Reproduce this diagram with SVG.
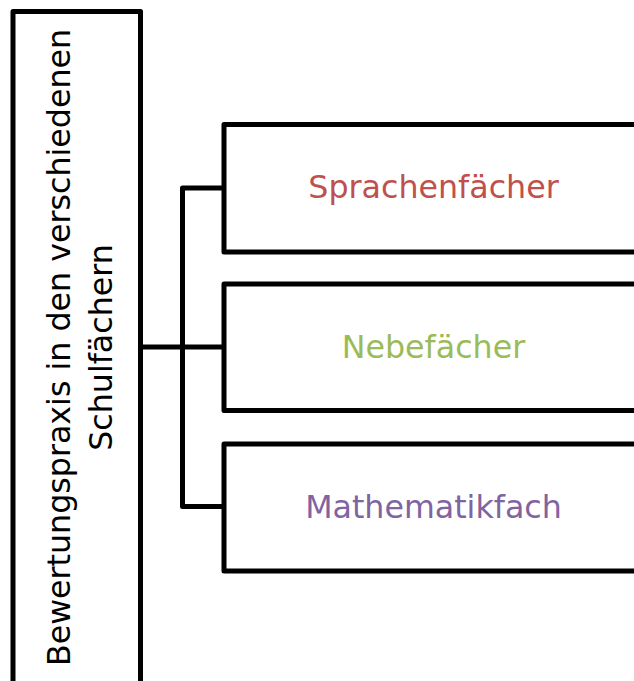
<svg xmlns="http://www.w3.org/2000/svg" width="634" height="681" viewBox="0 0 634 681">
<style>
.box{fill:#FFFFFF;stroke:#000000;stroke-width:5;stroke-linejoin:round}
.conn{fill:none;stroke:#000000;stroke-width:5;stroke-linejoin:round;stroke-linecap:butt}
text{font-family:"DejaVu Sans","Verdana",sans-serif;font-size:31.7px}
.lbl{text-anchor:middle}
</style>
<rect width="634" height="681" fill="#FFFFFF"/>
<g id="connectors">
<path class="conn" d="M140.5,347 H182.5"/>
<path class="conn" d="M224,188 H182.5 V506.5 H224"/>
<path class="conn" d="M182.5,347 H224"/>
</g>
<g id="root">
<rect class="box" x="13" y="11.5" width="127.5" height="672"/>
<g transform="translate(0,347.5) rotate(-90)">
<text class="lbl" x="0" y="70" fill="#000000">Bewertungspraxis in den verschiedenen</text>
<text class="lbl" x="0" y="112" fill="#000000">Schulfächern</text>
</g>
</g>
<g id="sprachen">
<rect class="box" x="224" y="124.5" width="420" height="127.5"/>
<text class="lbl" x="433.5" y="197.5" fill="#C0504D">Sprachenfächer</text>
</g>
<g id="neben">
<rect class="box" x="224" y="284" width="420" height="126.5"/>
<text class="lbl" x="433.5" y="357.5" fill="#9BBB59">Nebefächer</text>
</g>
<g id="mathe">
<rect class="box" x="224" y="444" width="420" height="127"/>
<text class="lbl" x="433.5" y="518" fill="#8064A2">Mathematikfach</text>
</g>
</svg>
